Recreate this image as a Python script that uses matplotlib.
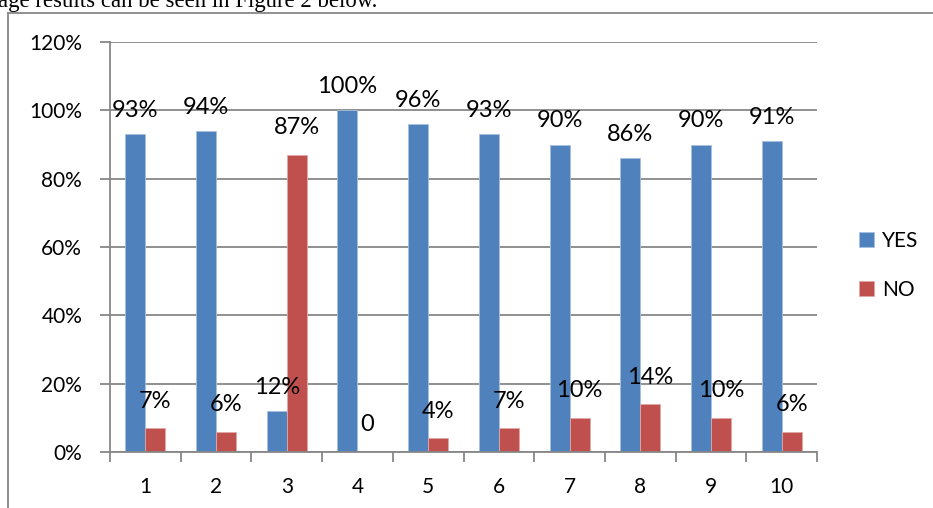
"""Figure 2: YES / NO percentages per item, Excel-style clustered columns"""
import numpy as np, matplotlib
matplotlib.use("Agg")
import matplotlib.pyplot as plt
from matplotlib.ticker import FixedLocator, FuncFormatter, NullFormatter

categories = ["1", "2", "3", "4", "5", "6", "7", "8", "9", "10"]
yes_vals = [93, 94, 12, 100, 96, 93, 90, 86, 90, 91]
no_vals = [7, 6, 87, 0, 4, 7, 10, 14, 10, 6]
yes_labels = ["93%", "94%", "12%", "100%", "96%", "93%", "90%", "86%", "90%", "91%"]
no_labels = ["7%", "6%", "87%", "0", "4%", "7%", "10%", "14%", "10%", "6%"]
y_ticks = [0, 20, 40, 60, 80, 100, 120]

BLUE, RED, GRID = "#4F81BD", "#C0504D", "#878787"
plt.rcParams["font.family"] = ["Lato", "DejaVu Sans"]

W, H = 933, 508
fig = plt.figure(figsize=(W/100, H/100), dpi=100, facecolor="white")

# clipped line of the surrounding document text + the chart border
fig.text(-2/W, 1-7/H, "age results can be seen in Figure 2 below.", family="Liberation Serif",
         fontsize=16.4, va="baseline", ha="left", color="black")
fig.add_artist(plt.Line2D([8/W, 8/W], [0, 1-13/H], color=GRID, lw=1.3))
fig.add_artist(plt.Line2D([8/W, 1], [1-13/H, 1-13/H], color=GRID, lw=1.3))

ax = fig.add_axes([110/W, 56/H, 707/W, 410/H])
x = np.arange(1, len(categories)+1)
bw = 0.283
ax.bar(x-bw/2, yes_vals, bw, color=BLUE, edgecolor="#A7C0DE", lw=0.6, label="YES", zorder=2)
ax.bar(x+bw/2, no_vals, bw, color=RED, edgecolor="#E0A9A7", lw=0.6, label="NO", zorder=2)

for xi, v, s in zip(x, yes_vals, yes_labels):
    ax.annotate(s, (xi-bw/2, v), xytext=(0, 17), textcoords="offset points",
                ha="center", va="center", fontsize=17, zorder=3)
for xi, v, s in zip(x, no_vals, no_labels):
    ax.annotate(s, (xi+bw/2, v), xytext=(0, 19.5), textcoords="offset points",
                ha="center", va="center", fontsize=17, zorder=3)

ax.set_xlim(0.5, len(categories)+0.5)
ax.set_ylim(0, 120)
ax.set_yticks(y_ticks)
ax.yaxis.set_major_formatter(FuncFormatter(lambda v, p: f"{v:.0f}%"))
ax.yaxis.grid(True, color=GRID, lw=1.3)
ax.set_axisbelow(True)

ax.xaxis.set_major_locator(FixedLocator(np.arange(0.5, len(categories)+1)))
ax.xaxis.set_major_formatter(NullFormatter())
ax.xaxis.set_minor_locator(FixedLocator(x))
ax.set_xticklabels(categories, minor=True)
ax.tick_params(axis="x", which="major", length=7, width=1.3, color=GRID, direction="out")
ax.tick_params(axis="x", which="minor", length=0, pad=18, labelsize=15)
ax.tick_params(axis="y", length=7, width=1.3, color=GRID, pad=13, labelsize=15)

for s in ["top", "right"]: ax.spines[s].set_visible(False)
for s in ["left", "bottom"]:
    ax.spines[s].set_color(GRID); ax.spines[s].set_linewidth(1.3)

ax.legend(loc="upper left", bbox_to_anchor=(859/W, 1-231/H), bbox_transform=fig.transFigure,
          frameon=False, fontsize=15, handlelength=0.72, handleheight=0.72,
          handletextpad=0.4, labelspacing=1.39, borderpad=0, borderaxespad=0)

fig.savefig("out.png", dpi=100)
